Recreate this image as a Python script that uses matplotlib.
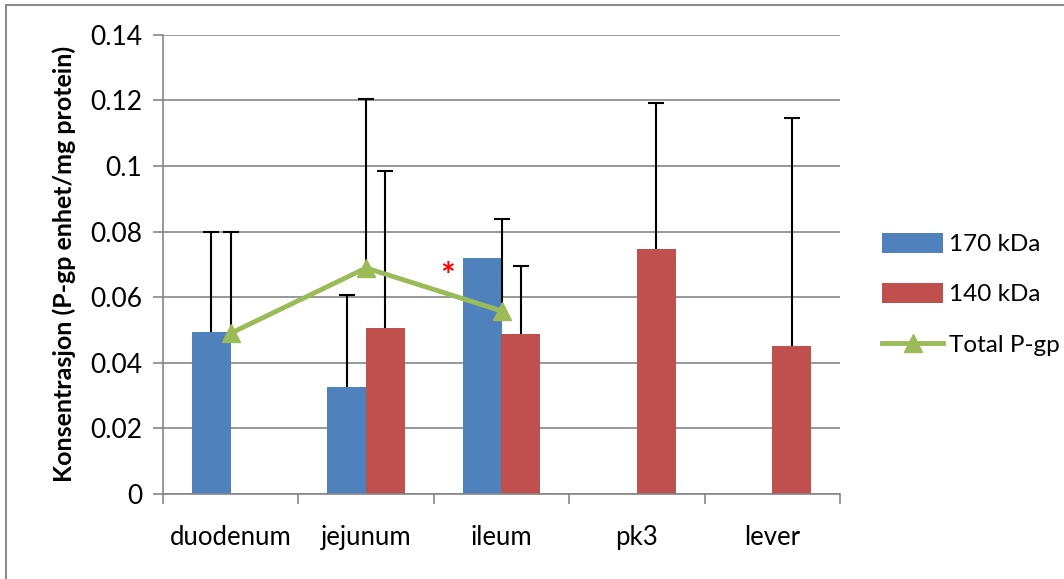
import numpy as np
import matplotlib
matplotlib.use("Agg")
import matplotlib.pyplot as plt
from matplotlib.patches import Rectangle

plt.rcParams['font.family'] = ['Lato', 'DejaVu Sans']

categories = ["duodenum", "jejunum", "ileum", "pk3", "lever"]

kda170 = [0.0493, 0.0327, 0.0720, np.nan, np.nan]
kda170_err = [0.0306, 0.0280, np.nan, np.nan, np.nan]

kda140 = [np.nan, 0.0505, 0.0487, 0.0747, 0.0451]
kda140_err = [np.nan, 0.0480, 0.0208, 0.0446, 0.0695]

total = [0.0490, 0.0689, 0.0558, np.nan, np.nan]
total_err = [0.0310, 0.0516, 0.0280, np.nan, np.nan]

blue = "#4F81BD"
red = "#C0504D"
green = "#9BBB59"
grid_col = "#868686"

fig = plt.figure(figsize=(10.64, 5.79), dpi=100)
ax = fig.add_axes([163 / 1064, 1 - 494 / 579, 677 / 1064, (494 - 34.7) / 579])

x = np.arange(len(categories))
w = 0.286


def up_errbar(xs, ys, errs):
    # only the upper half of the error bar, like Excel "plus" direction
    ys = np.array(ys, dtype=float)
    errs = np.array(errs, dtype=float)
    ax.vlines(xs, ys, ys + errs, color="black", lw=1.5, zorder=3)
    ax.plot(xs, ys + errs, ls="none", marker="_", markersize=11,
            mew=1.5, color="black", zorder=3)


b1 = ax.bar(x - w / 2, kda170, w, color=blue, label="170 kDa", zorder=2)
b2 = ax.bar(x + w / 2, kda140, w, color=red, label="140 kDa", zorder=2)

up_errbar(x - w / 2, kda170, kda170_err)
up_errbar(x + w / 2, kda140, kda140_err)
up_errbar(x, total, total_err)

ln, = ax.plot(x, total, color=green, lw=3.5, marker="^", markersize=13,
              label="Total P-gp", zorder=4)

ax.text(1.6, 0.0662, "*", color="red", fontsize=25, fontweight="bold",
        ha="center", va="center", zorder=5)

ax.set_xlim(-0.5, 4.5)
ax.set_ylim(0, 0.14)
ax.set_yticks(np.arange(0, 0.141, 0.02))
ax.set_yticklabels(["0", "0.02", "0.04", "0.06", "0.08", "0.1", "0.12", "0.14"])
ax.set_xticks(x)
ax.set_xticklabels(categories)
ax.set_xticks(np.arange(-0.5, 4.6, 1), minor=True)
ax.tick_params(axis="x", which="major", length=0, pad=22, labelsize=18.5)
ax.tick_params(axis="x", which="minor", length=7, color=grid_col, width=1.2)
ax.tick_params(axis="y", length=7, color=grid_col, width=1.2, labelsize=19, pad=8)

ax.yaxis.grid(True, color=grid_col, lw=1.2, zorder=0)
ax.set_axisbelow(True)
for s in ["top", "right"]:
    ax.spines[s].set_visible(False)
for s in ["left", "bottom"]:
    ax.spines[s].set_color(grid_col)
    ax.spines[s].set_linewidth(1.2)

ax.set_ylabel("Konsentrasjon (P-gp enhet/mg protein)", fontsize=18,
              fontweight="bold", labelpad=10)

leg = ax.legend([b1, b2, ln], ["170 kDa", "140 kDa", "Total P-gp"],
                loc="center left", bbox_to_anchor=(1.03, 0.435), frameon=False,
                fontsize=17.5, handlelength=2.5, handleheight=0.9,
                labelspacing=1.15, handletextpad=0.25)

# chart area border
fig.patches.append(Rectangle((6 / 1064, -0.1), 1.2, 1 - 5 / 579 + 0.1,
                             transform=fig.transFigure, fill=False,
                             edgecolor="#8c8c8c", lw=1.5))

fig.savefig("out.png", dpi=100)
